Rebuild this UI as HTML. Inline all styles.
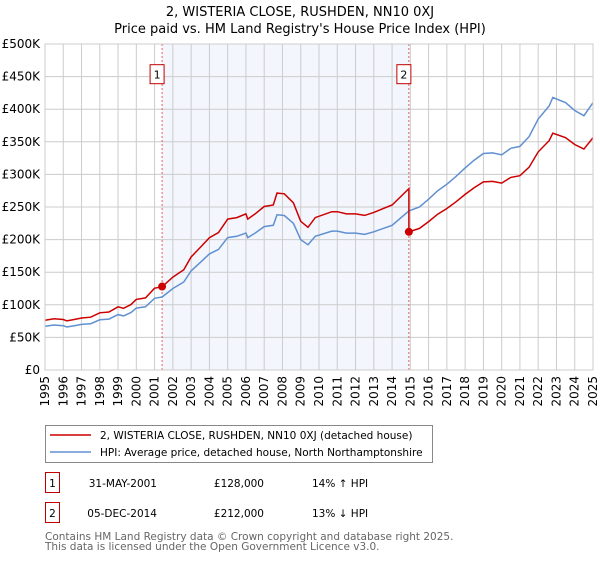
<!DOCTYPE html>
<html><head><meta charset="utf-8"><style>
body{margin:0;background:#fff;font-family:"DejaVu Sans","Liberation Sans",sans-serif;}
svg text{font-family:"DejaVu Sans","Liberation Sans",sans-serif;}
</style></head><body>
<svg width="600" height="560" viewBox="0 0 600 560" xmlns="http://www.w3.org/2000/svg">
<g id="root"></g>
</svg>
<script>
const yearTicks=[1995,1996,1997,1998,1999,2000,2001,2002,2003,2004,2005,2006,2007,2008,2009,2010,2011,2012,2013,2014,2015,2016,2017,2018,2019,2020,2021,2022,2023,2024,2025];
const valueTicks=[0,50,100,150,200,250,300,350,400,450,500];
const valueTickLabels=["£0","£50K","£100K","£150K","£200K","£250K","£300K","£350K","£400K","£450K","£500K"];
const hpiDates=[1995,1995.5,1996,1996.2,1996.6,1997,1997.5,1998,1998.5,1999,1999.3,1999.7,2000,2000.5,2001,2001.41,2002,2002.6,2003,2003.5,2004,2004.5,2005,2005.5,2006,2006.1,2006.5,2007,2007.5,2007.7,2008.1,2008.6,2009,2009.4,2009.8,2010.7,2011,2011.5,2012,2012.5,2013,2014,2014.92,2015.5,2016,2016.5,2017,2017.5,2018,2018.5,2019,2019.5,2020,2020.5,2021,2021.5,2022,2022.6,2022.8,2023.5,2024,2024.5,2025];
const hpiValues=[67,69,68,66,68,70,71,77,78,85,83,88,95,97,110,112,125,135,152,165,178,185,203,205,210,203,210,220,222,238,237,225,200,192,205,213,213,210,210,208,212,222,244,250,262,275,285,297,310,322,332,333,330,340,343,358,385,405,418,410,398,390,410];
const sales=[{t:2001.41,v:128,n:"1"},{t:2014.92,v:212,n:"2"}];
const ratio1=1.14, ratio2=212/244;
const X=t=>45+(t-1995)*(548/30);
const Y=v=>370-v*0.652;
const NS="http://www.w3.org/2000/svg";
const root=document.getElementById('root');
function mk(tag,attrs,parent){const e=document.createElementNS(NS,tag);for(const k in attrs)e.setAttribute(k,attrs[k]);(parent||root).appendChild(e);return e;}
let t1=mk('text',{x:300,y:16,'text-anchor':'middle','font-size':13,fill:'#000'});t1.textContent="2, WISTERIA CLOSE, RUSHDEN, NN10 0XJ";

let t2=mk('text',{x:300,y:33,'text-anchor':'middle','font-size':13,fill:'#000'});t2.textContent="Price paid vs. HM Land Registry's House Price Index (HPI)";

let sh=mk('rect',{x:X(sales[0].t),y:Y(500),width:X(sales[1].t)-X(sales[0].t),height:Y(0)-Y(500),fill:'#f3f6fd'});

yearTicks.forEach(y=>{let l=mk('line',{x1:X(y),x2:X(y),y1:Y(500),y2:Y(0),stroke:'#cccccc','stroke-width':1});

let tx=mk('text',{x:0,y:0,'font-size':12,fill:'#000','text-anchor':'end',transform:`translate(${X(y)+4},${Y(0)+6}) rotate(-90)`});tx.textContent=y;
});
valueTicks.forEach((v,i)=>{let l=mk('line',{x1:X(1995),x2:X(2025),y1:Y(v),y2:Y(v),stroke:'#cccccc','stroke-width':1});

let tx=mk('text',{x:40,y:Y(v)+4,'font-size':12,fill:'#000','text-anchor':'end'});tx.textContent=valueTickLabels[i];
});
sales.forEach(s=>{let l=mk('line',{x1:X(s.t),x2:X(s.t),y1:Y(500),y2:Y(0),stroke:'#e06060','stroke-width':1,'stroke-dasharray':'2,2'});

let r=mk('rect',{x:X(s.t)-12,y:Y(456)-8,width:14,height:19,fill:'#fff',stroke:'#c00000','stroke-width':1});

let tx=mk('text',{x:X(s.t)-5,y:Y(456)+6,'font-size':11,'text-anchor':'middle',fill:'#000'});tx.textContent=s.n;
});
let hp=hpiDates.map((t,i)=>X(t).toFixed(1)+','+Y(hpiValues[i]).toFixed(1)).join(' ');
let hl=mk('polyline',{points:hp,fill:'none',stroke:'#6090d0','stroke-width':1.5});

let pts=[];
hpiDates.forEach((t,i)=>{let r=t<=sales[1].t?ratio1:ratio2; if(t===sales[1].t){pts.push([t,hpiValues[i]*ratio1]);pts.push([t,sales[1].v]);} else pts.push([t,hpiValues[i]*r]);});
let pl=mk('polyline',{points:pts.map(p=>X(p[0]).toFixed(1)+','+Y(p[1]).toFixed(1)).join(' '),fill:'none',stroke:'#cc0000','stroke-width':1.5});

sales.forEach(s=>{let c=mk('circle',{cx:X(s.t),cy:Y(s.v),r:4,fill:'#cc0000'});
});
let ax=mk('rect',{x:X(1995),y:Y(500),width:X(2025)-X(1995),height:Y(0)-Y(500),fill:'none',stroke:'#cccccc'});

let lg=mk('rect',{x:45.5,y:425.5,width:387,height:37,fill:'#fff',stroke:'#888'});

[[ '#cc0000',"2, WISTERIA CLOSE, RUSHDEN, NN10 0XJ (detached house)",435],['#6090d0',"HPI: Average price, detached house, North Northamptonshire",452]].forEach(a=>{
let l=mk('line',{x1:50,x2:91,y1:a[2],y2:a[2],stroke:a[0],'stroke-width':1.5});
let tx=mk('text',{x:100,y:a[2]+4,'font-size':10.5,fill:'#000'});tx.textContent=a[1];});
[["1","31-MAY-2001","£128,000","14% ↑ HPI",483],["2","05-DEC-2014","£212,000","13% ↓ HPI",513]].forEach(r=>{
let b=mk('rect',{x:45.5,y:r[4]-10.5,width:14,height:20,fill:'#fff',stroke:'#c00000'});
let n=mk('text',{x:52.5,y:r[4]+4,'font-size':10.5,'text-anchor':'middle'});n.textContent=r[0];
let d=mk('text',{x:157,y:r[4]+4,'font-size':10.5,'text-anchor':'end'});d.textContent=r[1];
let p=mk('text',{x:264,y:r[4]+4,'font-size':10.5,'text-anchor':'end'});p.textContent=r[2];
let h=mk('text',{x:312,y:r[4]+4,'font-size':10.5});h.textContent=r[3];});
let f1=mk('text',{x:45,y:540,'font-size':10.5,fill:'#666'});f1.textContent="Contains HM Land Registry data © Crown copyright and database right 2025.";

let f2=mk('text',{x:45,y:550,'font-size':10.5,fill:'#666'});f2.textContent="This data is licensed under the Open Government Licence v3.0.";

</script>
</body></html>
